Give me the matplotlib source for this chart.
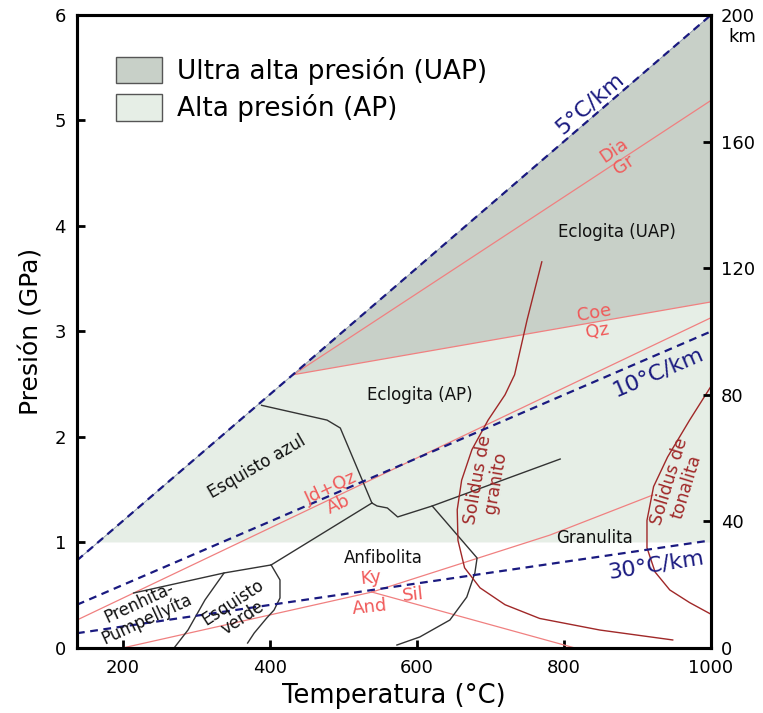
import matplotlib
matplotlib.use('Agg')
import matplotlib.pyplot as plt
from matplotlib.patches import Patch

# Temperatura (°C) y presión (GPa) leídas de la figura
# campos sombreados
uap_T = [432, 1000, 1000]
uap_P = [2.59, 6.0, 3.28]
ap_T = [166, 1000, 1000, 432]
ap_P = [1.0, 1.0, 3.28, 2.59]

# geotermas
geo_names = ['5°C/km', '10°C/km', '30°C/km']
geo_T = [[138, 1000], [138, 1000], [138, 1000]]
geo_P = [[0.83, 6.0], [0.41, 3.0], [0.14, 1.02]]
geo_lab_T = [835, 928, 925]
geo_lab_P = [5.16, 2.62, 0.79]
geo_lab_rot = [40.7, 23.3, 9]

# reacciones (rosa)
dia_T = [432, 1000]
dia_P = [2.59, 5.19]
coe_T = [432, 1000]
coe_P = [2.59, 3.28]
jd_T = [138, 1000]
jd_P = [0.265, 3.13]
and_ky_T = [200, 539]
and_ky_P = [0.0, 0.53]
ky_sil_T = [539, 781, 921]
ky_sil_P = [0.53, 1.07, 1.45]
and_sil_T = [539, 815]
and_sil_P = [0.53, 0.0]

# limites de facies (negro)
azul_sup_T = [389, 478, 496, 539]
azul_sup_P = [2.30, 2.16, 2.085, 1.374]
eclog_inf_T = [539, 546, 560, 574, 621, 795]
eclog_inf_P = [1.374, 1.346, 1.327, 1.242, 1.346, 1.791]
anf_gra_T = [621, 682, 679, 668, 645, 604, 573]
anf_gra_P = [1.346, 0.853, 0.711, 0.483, 0.265, 0.104, 0.028]
azul_anf_T = [539, 402]
azul_anf_P = [1.374, 0.787]
prenh_sup_T = [215, 338, 402]
prenh_sup_P = [0.521, 0.711, 0.787]
prenh_verde_T = [338, 312, 289, 270]
prenh_verde_P = [0.711, 0.455, 0.171, 0.0]
verde_anf_T = [402, 414, 414, 406, 396, 379, 370]
verde_anf_P = [0.787, 0.645, 0.474, 0.36, 0.284, 0.142, 0.047]

# solidus (rojo oscuro)
granito_T = [770, 750, 733, 720, 697, 675, 661, 655, 656, 665, 686, 720, 767, 849, 948]
granito_P = [3.66, 3.11, 2.59, 2.40, 2.16, 1.88, 1.59, 1.31, 1.02, 0.76, 0.57, 0.41, 0.28, 0.17, 0.076]
tonalita_T = [1000, 971, 941, 922, 913, 913, 924, 944, 971, 1000]
tonalita_P = [2.48, 2.16, 1.81, 1.53, 1.21, 0.95, 0.72, 0.55, 0.43, 0.32]

# etiquetas
facies_txt = ['Eclogita (UAP)', 'Eclogita (AP)', 'Esquisto azul', 'Anfibolita', 'Granulita',
              'Prenhita-\nPumpellyíta', 'Esquisto\nverde']
facies_T = [872, 604, 383, 555, 841, 228, 357]
facies_P = [3.94, 2.40, 1.72, 0.85, 1.04, 0.35, 0.36]
facies_rot = [0, 0, 30, 0, 0, 25, 33]

reac_txt = ['Dia\nGr', 'Coe\nQz', 'Jd+Qz\nAb', 'Ky', 'And', 'Sil']
reac_T = [875, 844, 489, 538, 536, 595]
reac_P = [4.65, 3.09, 1.44, 0.66, 0.39, 0.50]
reac_rot = [34, 10, 25, 6, 6, 6]

sol_txt = ['Solidus de\ngranito', 'Solidus de\ntonalita']
sol_T = [695, 955]
sol_P = [1.58, 1.55]
sol_rot = [80, 73]

km_ticks = [0, 40, 80, 120, 160, 200]

c_uap = '#c8d0c8'
c_ap = '#e6eee6'
c_pink = '#f08080'
c_pink_txt = '#f05a5a'
c_red = '#a02828'
c_navy = '#1a1a80'
c_black = '#333333'

fig = plt.figure(figsize=(7.63, 7.13), dpi=100)
ax = fig.add_axes([0.1009, 0.0912, 0.8309, 0.8878])

ax.fill(ap_T, ap_P, color=c_ap, lw=0, zorder=0)
ax.fill(uap_T, uap_P, color=c_uap, lw=0, zorder=0)

for t, p in [(dia_T, dia_P), (coe_T, coe_P), (jd_T, jd_P), (and_ky_T, and_ky_P),
             (ky_sil_T, ky_sil_P), (and_sil_T, and_sil_P)]:
    ax.plot(t, p, color=c_pink, lw=0.9, zorder=2)

for t, p in [(azul_sup_T, azul_sup_P), (eclog_inf_T, eclog_inf_P), (anf_gra_T, anf_gra_P),
             (azul_anf_T, azul_anf_P), (prenh_sup_T, prenh_sup_P),
             (prenh_verde_T, prenh_verde_P), (verde_anf_T, verde_anf_P)]:
    ax.plot(t, p, color=c_black, lw=1.0, zorder=3)

ax.plot(granito_T, granito_P, color=c_red, lw=1.0, zorder=3)
ax.plot(tonalita_T, tonalita_P, color=c_red, lw=1.0, zorder=3)

ax.plot(geo_T[0], geo_P[0], color='#8894a8', lw=0.6, zorder=4)
for i in range(3):
    ax.plot(geo_T[i], geo_P[i], color=c_navy, lw=1.6, ls=(0, (3.5, 2.5)), zorder=5)
    ax.text(geo_lab_T[i], geo_lab_P[i], geo_names[i], color=c_navy, fontsize=16,
            rotation=geo_lab_rot[i], ha='center', va='center', zorder=6)

for s, t, p, r in zip(facies_txt, facies_T, facies_P, facies_rot):
    ax.text(t, p, s, fontsize=12, color='#111111', rotation=r, ha='center', va='center',
            linespacing=1.0, zorder=6)
for s, t, p, r in zip(reac_txt, reac_T, reac_P, reac_rot):
    ax.text(t, p, s, fontsize=13, color=c_pink_txt, rotation=r, ha='center', va='center',
            linespacing=1.0, zorder=6)
for s, t, p, r in zip(sol_txt, sol_T, sol_P, sol_rot):
    ax.text(t, p, s, fontsize=12.5, color=c_red, rotation=r, ha='center', va='center',
            linespacing=1.0, zorder=6)

ax.set_xlim(138, 1000)
ax.set_ylim(0, 6)
ax.set_xticks([200, 400, 600, 800, 1000])
ax.set_yticks([0, 1, 2, 3, 4, 5, 6])
ax.tick_params(direction='in', length=6, width=2, labelsize=13, pad=8)
ax.set_xlabel('Temperatura (°C)', fontsize=18.5, labelpad=4)
ax.set_ylabel('Presión (GPa)', fontsize=18, labelpad=8)

ax2 = ax.twinx()
ax2.set_ylim(0, 200)
ax2.set_yticks(km_ticks)
ax2.tick_params(direction='in', length=6, width=2, labelsize=13, pad=7)
ax2.text(1.049, 0.965, 'km', transform=ax2.transAxes, fontsize=13, ha='center', va='center')

for a in (ax, ax2):
    for sp in a.spines.values():
        sp.set_linewidth(2.2)

handles = [Patch(facecolor=c_uap, edgecolor='#555555', lw=1, label='Ultra alta presión (UAP)'),
           Patch(facecolor=c_ap, edgecolor='#555555', lw=1, label='Alta presión (AP)')]
ax.legend(handles=handles, loc='upper left', bbox_to_anchor=(0.0615, 0.934), frameon=False,
          fontsize=19, borderpad=0, borderaxespad=0, handlelength=1.75, handleheight=1.17,
          handletextpad=0.55, labelspacing=0.35)

fig.savefig('out.png', dpi=100)
